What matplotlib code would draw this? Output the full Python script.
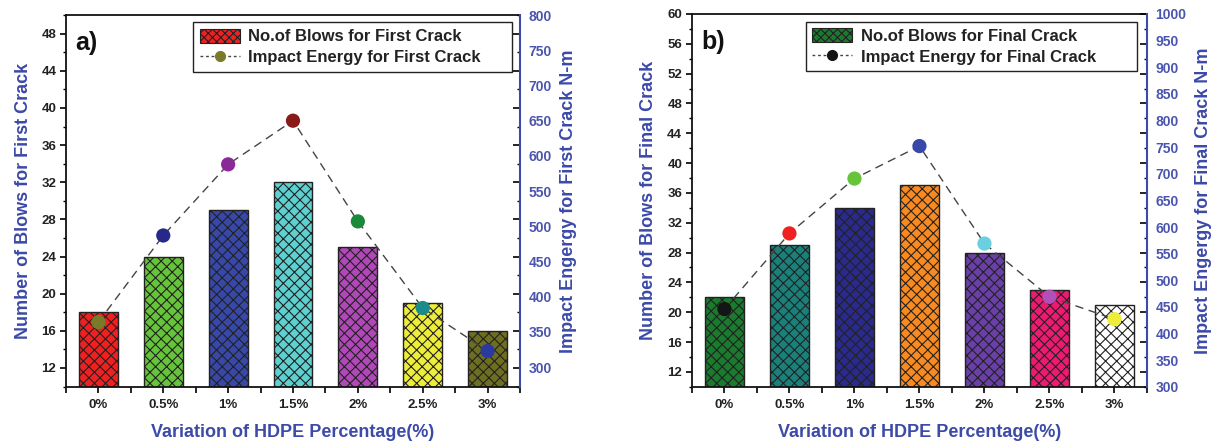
import matplotlib
matplotlib.use("Agg")
import matplotlib.pyplot as plt
from matplotlib.patches import Patch
from matplotlib.lines import Line2D
from matplotlib.ticker import MultipleLocator

plt.rcParams['font.family'] = ['Liberation Sans', 'DejaVu Sans']
plt.rcParams['font.weight'] = 'bold'
plt.rcParams['axes.labelweight'] = 'bold'
plt.rcParams['hatch.linewidth'] = 0.8

categories = ['0%', '0.5%', '1%', '1.5%', '2%', '2.5%', '3%']

# panel a) first crack
blows_first = [18, 24, 29, 32, 25, 19, 16]
energy_first = [364, 487, 588, 650, 507, 384, 323]
bar_colors_a = ['#f02020', '#66c43a', '#3848a8', '#5fd0d0', '#b048b8', '#eeee3a', '#6e6e20']
marker_colors_a = ['#7a7a28', '#28288a', '#8a2a98', '#8a1a1a', '#1a8a3a', '#1a8a8a', '#2a3aa0']

# panel b) final crack
blows_final = [22, 29, 34, 37, 28, 23, 21]
energy_final = [446, 588, 691, 752, 569, 469, 427]
bar_colors_b = ['#1a7a2e', '#1a807a', '#2a2a8c', '#f88a20', '#6a40a8', '#ee1a72', '#ffffff']
marker_colors_b = ['#151515', '#f02020', '#66c43a', '#3848a8', '#6ad0e0', '#b050b8', '#eeee3a']

BLUE = '#3c4aa8'
TICK_BLUE = '#4a55b0'
DARK = '#222222'


def panel(ax, blows, energy, bar_colors, marker_colors, ylim, yticks,
          ylim2, yticks2, letter, which, legend_box):
    x = list(range(len(categories)))
    ax.bar(x, blows, width=0.6, color=bar_colors, edgecolor='#222222',
           linewidth=1.0, hatch='xxx', zorder=2)
    ax.set_xlim(-0.5, len(categories) - 0.5)
    ax.set_ylim(*ylim)
    ax.set_yticks(yticks)
    ax.yaxis.set_minor_locator(MultipleLocator(2))
    ax.set_xticks(x, labels=categories)
    ax.xaxis.set_minor_locator(MultipleLocator(0.5))
    ax.tick_params(axis='y', which='major', direction='out', length=4,
                   width=1.2, labelsize=9.5, labelcolor=DARK, pad=3)
    ax.tick_params(axis='y', which='minor', direction='out', length=2.5, width=1.0)
    ax.tick_params(axis='x', which='both', direction='out', length=4,
                   width=1.2, labelsize=9.5, labelcolor=DARK, pad=5)
    for s in ax.spines.values():
        s.set_linewidth(1.3)
        s.set_color('#111111')
    ax.set_xlabel('Variation of HDPE Percentage(%)', fontsize=13, color=BLUE,
                  fontweight='bold', labelpad=9)
    ax.set_ylabel(f'Number of Blows for {which} Crack', fontsize=13,
                  color=BLUE, fontweight='bold', labelpad=7)
    ax.text(0.02, 0.925, letter, transform=ax.transAxes, fontsize=18,
            fontweight='bold', va='center', ha='left', color='#111111')

    # mirrored inward ticks on the right side (left-axis scale)
    ax3 = ax.twinx()
    ax3.set_ylim(*ylim)
    ax3.set_yticks(yticks)
    ax3.yaxis.set_minor_locator(MultipleLocator(2))
    ax3.tick_params(axis='y', which='major', direction='in', length=5,
                    width=1.2, labelright=False)
    ax3.tick_params(axis='y', which='minor', direction='in', length=2.5, width=1.0)
    for s in ax3.spines.values():
        s.set_visible(False)

    ax2 = ax.twinx()
    ax2.plot(x, energy, color='#444444', lw=1.0, dashes=(6, 4), zorder=3)
    ax2.scatter(x, energy, c=marker_colors, s=105, zorder=4, edgecolors='none')
    ax2.set_ylim(*ylim2)
    ax2.set_yticks(yticks2)
    ax2.tick_params(axis='y', length=0, labelsize=10, labelcolor=TICK_BLUE, pad=6)
    for name, s in ax2.spines.items():
        s.set_visible(name == 'right')
    ax2.spines['right'].set_color(BLUE)
    ax2.spines['right'].set_linewidth(1.5)
    ax2.set_ylabel(f'Impact Engergy for {which} Crack N-m', fontsize=13,
                   color=BLUE, fontweight='bold', labelpad=6)

    handles = [
        Patch(facecolor=bar_colors[0], edgecolor='#222222', hatch='xxxx', lw=0.8),
        Line2D([], [], color='#444444', lw=1.0, ls=(0, (2, 2)), marker='o',
               ms=7, mfc=marker_colors[0], mec=marker_colors[0]),
    ]
    labels = [f'No.of Blows for {which} Crack', f'Impact Energy for {which} Crack']
    leg = ax2.legend(handles, labels, loc='upper left', fontsize=12,
                     bbox_to_anchor=legend_box, mode='expand',
                     frameon=True, fancybox=False, framealpha=1,
                     edgecolor='#222222', borderaxespad=0,
                     handlelength=2.4, handleheight=0.9, labelspacing=0.3,
                     borderpad=0.4, handletextpad=0.5)
    leg.get_frame().set_linewidth(1.0)
    for t in leg.get_texts():
        t.set_color(DARK)


fig = plt.figure(figsize=(12.15, 4.47), dpi=100)
ax_a = fig.add_axes([0.0543, 0.1353, 0.3737, 0.831])
ax_b = fig.add_axes([0.5695, 0.1347, 0.3745, 0.834])

panel(ax_a, blows_first, energy_first, bar_colors_a, marker_colors_a,
      (10, 50), list(range(12, 49, 4)), (272.5, 800), list(range(300, 801, 50)),
      'a)', 'First', (0.28, 0.0, 0.703, 0.981))
panel(ax_b, blows_final, energy_final, bar_colors_b, marker_colors_b,
      (10, 60), list(range(12, 61, 4)), (300, 1000), list(range(300, 1001, 50)),
      'b)', 'Final', (0.25, 0.0, 0.729, 0.979))

fig.savefig('out.png', dpi=100)
